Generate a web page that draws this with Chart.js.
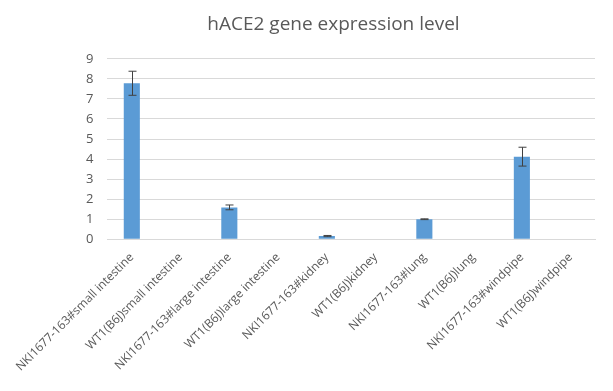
<!DOCTYPE html>
<html>
<head>
<meta charset="utf-8">
<script src="https://cdn.jsdelivr.net/npm/chart.js@4/dist/chart.umd.min.js"></script>
<style>
  html, body { margin: 0; padding: 0; background: #fff; }
  #wrap { width: 613px; height: 391px; }
</style>
</head>
<body>
<div id="wrap"><canvas id="expressionChart"></canvas></div>
<script>
const categories = [
    'NKI1677-163#small intestine', 'WT1(B6J)small intestine',
    'NKI1677-163#large intestine', 'WT1(B6J)large intestine',
    'NKI1677-163#kidney', 'WT1(B6J)kidney',
    'NKI1677-163#lung', 'WT1(B6J)lung',
    'NKI1677-163#windpipe', 'WT1(B6J)windpipe'
];
const expression = [7.78, 0, 1.59, 0, 0.16, 0, 1.0, 0, 4.12, 0];
const errors = [0.6, 0, 0.12, 0, 0.03, 0, 0.02, 0, 0.47, 0];
const yTicks = [0, 1, 2, 3, 4, 5, 6, 7, 8, 9];

const errorBars = {
    id: 'errorBars',
    afterDatasetsDraw(chart) {
        const c = chart.ctx;
        const y = chart.scales.y;
        const meta = chart.getDatasetMeta(0);
        c.save();
        c.strokeStyle = '#404040';
        c.lineWidth = 1;
        meta.data.forEach(function (bar, i) {
            if (!errors[i]) return;
            const x = Math.round(bar.x) + 0.5;
            const top = y.getPixelForValue(expression[i] + errors[i]);
            const bot = y.getPixelForValue(expression[i] - errors[i]);
            c.beginPath();
            c.moveTo(x, top); c.lineTo(x, bot);
            c.moveTo(x - 4, top); c.lineTo(x + 4, top);
            c.moveTo(x - 4, bot); c.lineTo(x + 4, bot);
            c.stroke();
        });
        c.restore();
    }
};

new Chart(document.getElementById('expressionChart').getContext('2d'), {
    type: 'bar',
    data: {
        labels: categories,
        datasets: [{
            label: 'hACE2',
            data: expression,
            backgroundColor: '#5b9bd5',
            categoryPercentage: 1,
            barPercentage: 0.33
        }]
    },
    options: {
        responsive: true,
        maintainAspectRatio: false,
        animation: false,
        layout: { padding: { left: 72, right: 18, top: 6, bottom: 14 } },
        scales: {
            x: {
                grid: { display: false },
                border: { color: '#d9d9d9' },
                ticks: {
                    color: '#595959',
                    font: { family: 'Open Sans', size: 12 },
                    maxRotation: 45,
                    minRotation: 45,
                    autoSkip: false
                }
            },
            y: {
                min: 0,
                max: 9,
                afterBuildTicks(axis) { axis.ticks = yTicks.map(v => ({ value: v })); },
                grid: { color: '#d9d9d9', drawTicks: false },
                border: { display: false },
                ticks: {
                    color: '#595959',
                    font: { family: 'Open Sans', size: 13 },
                    padding: 14
                }
            }
        },
        plugins: {
            legend: { display: false },
            tooltip: { enabled: false },
            title: {
                display: true,
                text: 'hACE2 gene expression level',
                color: '#595959',
                font: { family: 'Open Sans', size: 19, weight: 'normal' },
                padding: { top: 7, bottom: 23 }
            }
        }
    },
    plugins: [errorBars]
});
</script>
</body>
</html>
